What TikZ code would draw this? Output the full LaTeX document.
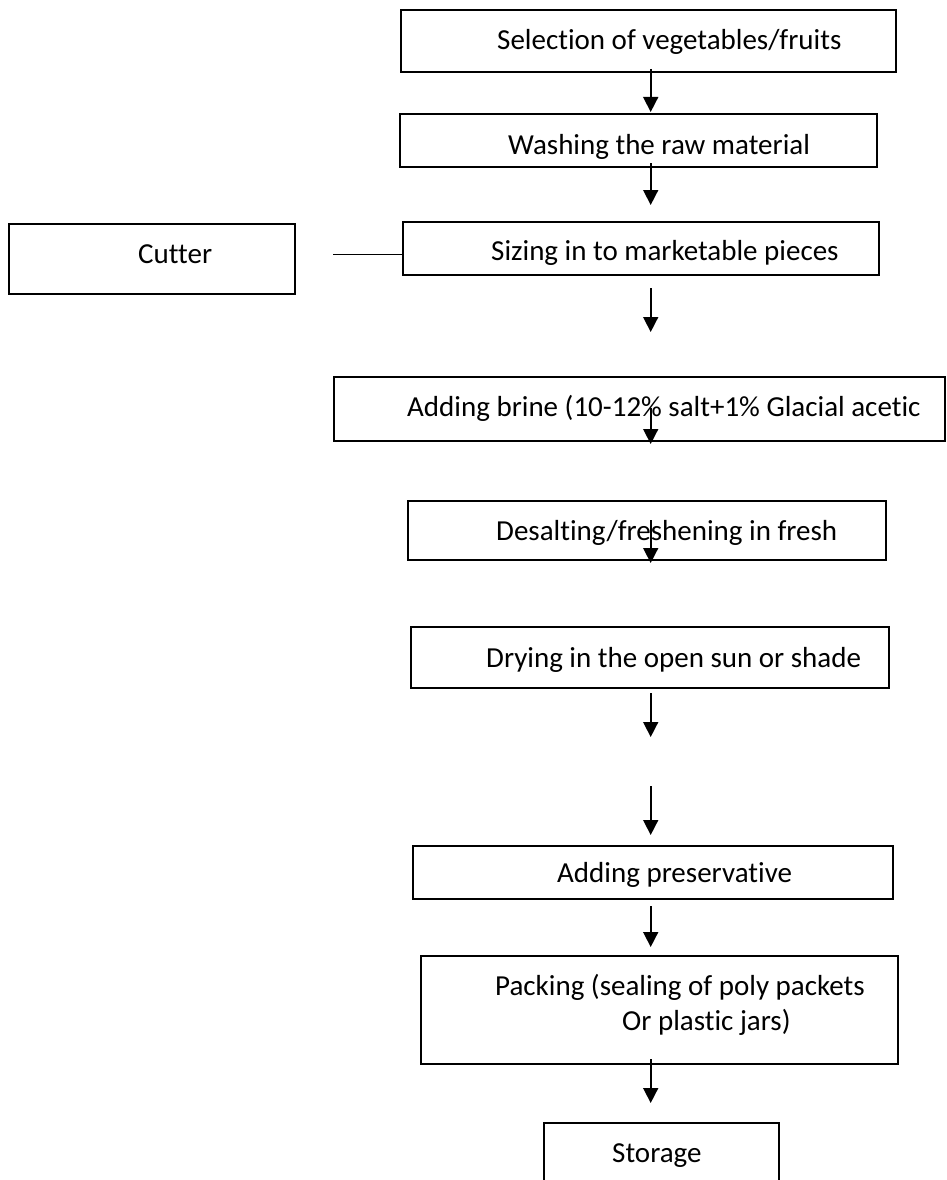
\documentclass[tikz,border=0pt]{standalone}
\usepackage{fontspec}
\setmainfont[Ligatures={NoCommon,NoRare,NoContextual}]{Carlito}
\usetikzlibrary{arrows.meta}
\begin{document}
\begin{tikzpicture}[x=1pt,y=-1pt,
  box/.style={draw, line width=1.8pt, inner sep=0pt, outer sep=0pt},
  lbl/.style={anchor=base west, inner sep=0pt, align=left, font=\fontsize{29}{35}\selectfont},
  flow/.style={line width=1.6pt, -{Triangle[length=15pt,width=15pt]}},
  link/.style={line width=1.6pt}]
\useasboundingbox (0,0) rectangle (946,1180);
\clip (0,0) rectangle (946,1180);
% boxes
\node[box, minimum width=495pt, minimum height=62pt] (sel) at (648.5,41) {};
\node[box, minimum width=477pt, minimum height=53pt] (wash) at (638.5,140.5) {};
\node[box, minimum width=476pt, minimum height=53pt] (size) at (641,248.5) {};
\node[box, minimum width=286pt, minimum height=70pt] (cut) at (152,259) {};
\node[box, minimum width=611pt, minimum height=64pt] (brine) at (639.5,409) {};
\node[box, minimum width=478pt, minimum height=59pt] (desalt) at (647,530.5) {};
\node[box, minimum width=478pt, minimum height=61pt] (dry) at (650,657.5) {};
\node[box, minimum width=480pt, minimum height=53pt] (pres) at (653,872.5) {};
\node[box, minimum width=477pt, minimum height=108pt] (pack) at (659.5,1010) {};
\node[box, minimum width=235pt, minimum height=77pt] (stor) at (661.5,1161.5) {};
% texts
\node[lbl] (selT) at (497,49.3) {Selection of vegetables/fruits};
\node[lbl] (washT) at (508,154) {Washing the raw material};
\node[lbl] (sizeT) at (491,260.7) {Sizing in to marketable pieces};
\node[lbl] (cutT) at (138,263.3) {Cutter};
\node[lbl] (brineT) at (407,416.7) {Adding brine (10-12\% salt+1\% Glacial acetic};
\node[lbl] (desaltT) at (496,540) {Desalting/freshening in fresh};
\node[lbl] (dryT) at (486,667.5) {Drying in the open sun or shade};
\node[lbl] (presT) at (557,882) {Adding preservative};
\node[lbl] (packT) at (495,1030) {Packing (sealing of poly packets\\\hspace*{127pt}Or plastic jars)};
\node[lbl] (storT) at (612,1162) {Storage};
% connector coordinates
\coordinate (a1s) at (650.7,69);   \coordinate (a1e) at (650.7,112);
\coordinate (a2s) at (650.7,163);  \coordinate (a2e) at (650.7,205);
\coordinate (a3s) at (650.7,288);  \coordinate (a3e) at (650.7,332);
\coordinate (a4s) at (650.7,408);  \coordinate (a4e) at (650.7,444);
\coordinate (a5s) at (650.7,520);  \coordinate (a5e) at (650.7,563);
\coordinate (a6s) at (650.7,693);  \coordinate (a6e) at (650.7,737);
\coordinate (a7s) at (650.7,786);  \coordinate (a7e) at (650.7,835);
\coordinate (a8s) at (650.7,906);  \coordinate (a8e) at (650.7,947);
\coordinate (a9s) at (650.7,1059); \coordinate (a9e) at (650.7,1103);
\coordinate (c1) at (333,254.5);
% connectors
\draw[flow] (a1s) -- (a1e);
\draw[flow] (a2s) -- (a2e);
\draw[flow] (a3s) -- (a3e);
\draw[flow] (a4s) -- (a4e);
\draw[flow] (a5s) -- (a5e);
\draw[flow] (a6s) -- (a6e);
\draw[flow] (a7s) -- (a7e);
\draw[flow] (a8s) -- (a8e);
\draw[flow] (a9s) -- (a9e);
\draw[link] (c1) -- (c1 -| size.west);
\end{tikzpicture}
\end{document}
